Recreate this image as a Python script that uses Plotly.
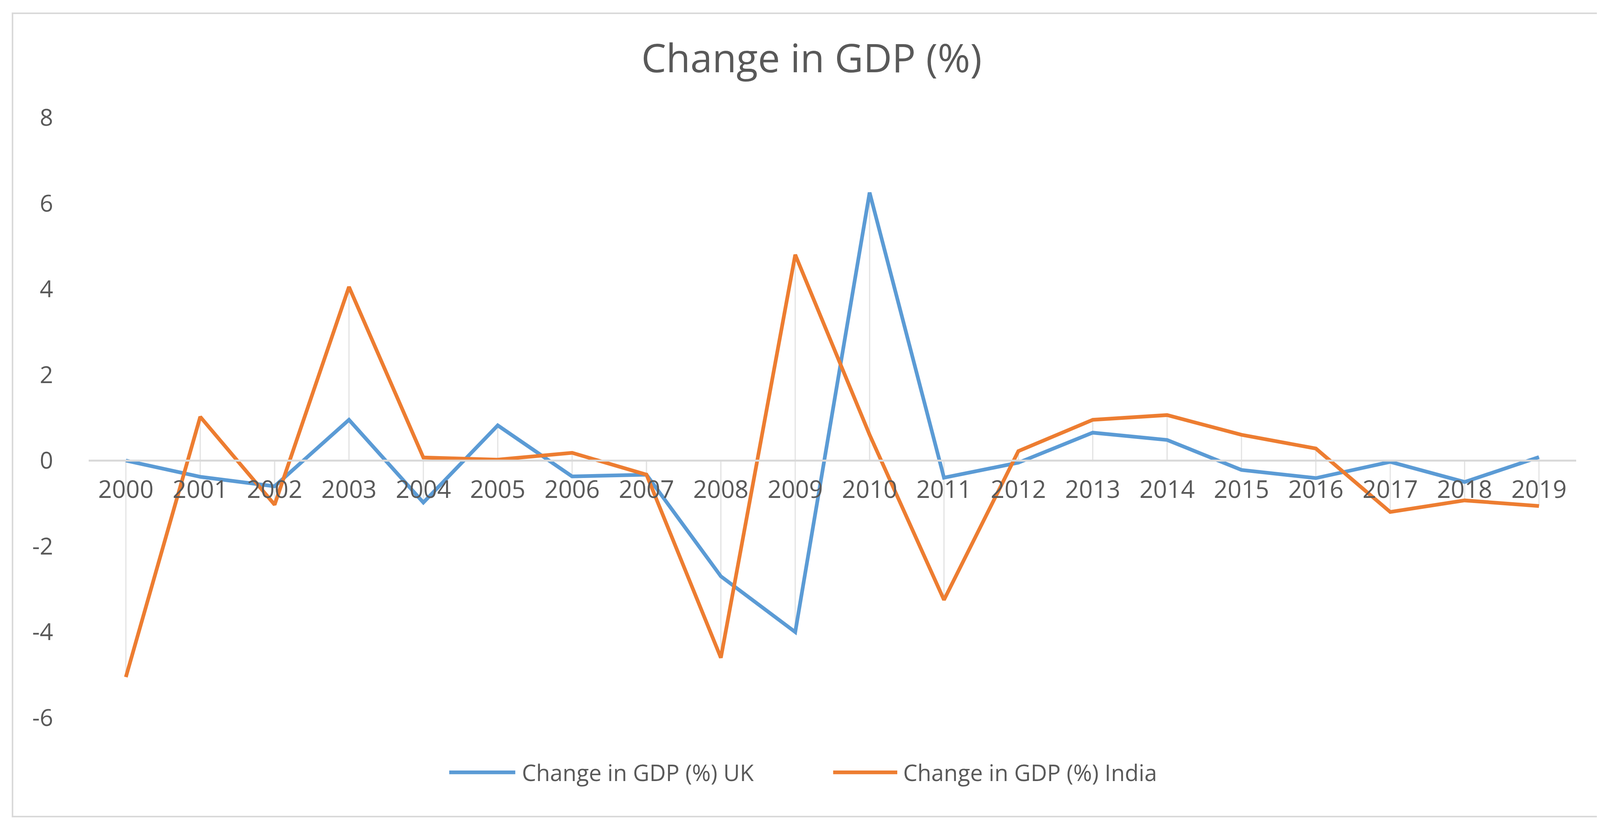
import plotly.graph_objects as go

_BLUE = "#5b9bd5"
_ORANGE = "#ed7d31"
_TEXT = "#595959"
_AXIS = "#d9d9d9"
_DROP = "#e3e3e3"
_FONT = "Open Sans"

years = ["2000", "2001", "2002", "2003", "2004", "2005", "2006", "2007", "2008", "2009",
         "2010", "2011", "2012", "2013", "2014", "2015", "2016", "2017", "2018", "2019"]
uk = [0.0, -0.38, -0.6, 0.95, -0.98, 0.82, -0.37, -0.33, -2.7, -4.0,
      6.25, -0.4, -0.05, 0.65, 0.48, -0.22, -0.41, -0.03, -0.5, 0.08]
india = [-5.05, 1.02, -1.03, 4.05, 0.07, 0.02, 0.18, -0.33, -4.6, 4.8,
         0.6, -3.25, 0.22, 0.95, 1.06, 0.6, 0.28, -1.2, -0.93, -1.06]
series_names = ["Change in GDP (%) UK", "Change in GDP (%) India"]
y_ticks = [-6, -4, -2, 0, 2, 4, 6, 8]

fig = go.Figure()

# drop lines from each point to the category axis
for vals in (uk, india):
    fig.add_trace(go.Scatter(
        x=years, y=vals, mode="markers",
        marker={"size": 0.1, "color": "rgba(0,0,0,0)"},
        error_y={
            "type": "data", "symmetric": False,
            "array": [-v if v < 0 else 0 for v in vals],
            "arrayminus": [v if v > 0 else 0 for v in vals],
            "color": _DROP, "thickness": 3, "width": 0,
        },
        showlegend=False, hoverinfo="skip",
    ))

fig.add_trace(go.Scatter(x=years, y=uk, name=series_names[0], mode="lines",
                         line={"color": _BLUE, "width": 9.5}))
fig.add_trace(go.Scatter(x=years, y=india, name=series_names[1], mode="lines",
                         line={"color": _ORANGE, "width": 9.5}))

# hand-made legend with long line samples, like Excel
legend_items = [(0.2424, 0.2868, 0.2907, _BLUE), (0.5005, 0.5436, 0.5470, _ORANGE)]
shapes = []
annotations = []
for (x0, x1, xt, col), name in zip(legend_items, series_names):
    shapes.append({"type": "line", "xref": "paper", "yref": "paper",
                   "x0": x0, "x1": x1, "y0": -0.091, "y1": -0.091,
                   "line": {"color": col, "width": 9.5}})
    annotations.append({"xref": "paper", "yref": "paper", "x": xt, "y": -0.091,
                        "xanchor": "left", "yanchor": "middle", "showarrow": False,
                        "text": name, "font": {"family": _FONT, "size": 58, "color": _TEXT}})

# outer chart border
shapes.append({"type": "rect", "xref": "paper", "yref": "paper",
               "x0": -0.0512, "x1": 1.0213, "y0": -0.1646, "y1": 1.1737,
               "line": {"color": _AXIS, "width": 4}, "layer": "below"})

fig.update_layout(
    width=4135, height=2110,
    paper_bgcolor="white", plot_bgcolor="white",
    margin={"l": 219, "r": 108, "t": 293, "b": 280},
    showlegend=False,
    font={"family": _FONT, "color": _TEXT, "size": 58},
    title={"text": "Change in GDP (%)", "x": 0.486, "xref": "paper", "xanchor": "center",
           "y": 0.933, "yanchor": "middle",
           "font": {"family": _FONT, "size": 101, "color": _TEXT}},
    xaxis={
        "type": "category", "range": [-0.5, 19.5],
        "anchor": "free", "position": 6 / 14,
        "showline": True, "linecolor": _AXIS, "linewidth": 5,
        "showgrid": False, "zeroline": False,
        "ticks": "outside", "ticklen": 18, "tickcolor": "rgba(0,0,0,0)",
        "tickfont": {"family": _FONT, "size": 62, "color": _TEXT},
    },
    yaxis={
        "range": [-6, 8], "tickvals": y_ticks, "ticktext": [str(v) for v in y_ticks],
        "showgrid": False, "zeroline": False, "showline": False,
        "ticks": "outside", "ticklen": 78, "tickcolor": "rgba(0,0,0,0)",
        "tickfont": {"family": _FONT, "size": 60, "color": _TEXT},
    },
    shapes=shapes,
    annotations=annotations,
)

fig.write_html("out.html")
